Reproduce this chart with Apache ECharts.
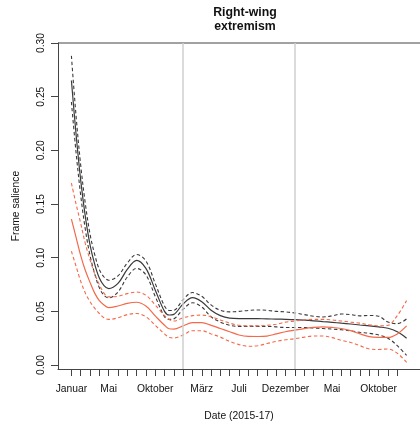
<!DOCTYPE html>
<html>
<head>
<meta charset="utf-8">
<script src="https://cdn.jsdelivr.net/npm/echarts@6/dist/echarts.min.js"></script>
<style>
  html, body { margin: 0; padding: 0; background: #fff; }
  #chart { width: 420px; height: 426px; }
</style>
</head>
<body>
<div id="chart"></div>
<script>
// Months since January 2015
const months = [0, 0.5, 1, 1.5, 2, 2.5, 3, 3.5, 4, 5, 6, 7, 8, 9, 10, 10.5, 11, 12, 13, 14, 15, 16, 17, 18, 19, 20, 21, 22, 23, 24, 25, 26, 27, 28, 29, 30, 31, 32, 33, 34, 35, 36];

// Smoothed salience, dark series (estimate and confidence bounds)
const darkMean  = [0.265, 0.215, 0.172, 0.138, 0.112, 0.094, 0.081, 0.074, 0.0712, 0.076, 0.089, 0.0975, 0.090, 0.070, 0.050, 0.0466, 0.0472, 0.057, 0.0628, 0.059, 0.051, 0.046, 0.0437, 0.0433, 0.0433, 0.0432, 0.0430, 0.0428, 0.0426, 0.0423, 0.0418, 0.0412, 0.0405, 0.0398, 0.039, 0.0382, 0.0373, 0.0365, 0.0355, 0.0343, 0.031, 0.025];
const darkUpper = [0.288, 0.232, 0.186, 0.150, 0.122, 0.103, 0.089, 0.082, 0.079, 0.083, 0.095, 0.103, 0.097, 0.076, 0.055, 0.0508, 0.051, 0.061, 0.0675, 0.064, 0.056, 0.051, 0.0495, 0.050, 0.0508, 0.0513, 0.051, 0.050, 0.0495, 0.0485, 0.047, 0.0455, 0.0448, 0.0458, 0.0475, 0.047, 0.0458, 0.0462, 0.0455, 0.040, 0.0385, 0.043];
const darkLower = [0.245, 0.198, 0.158, 0.126, 0.102, 0.085, 0.072, 0.065, 0.0625, 0.068, 0.082, 0.090, 0.084, 0.064, 0.045, 0.0425, 0.043, 0.052, 0.058, 0.054, 0.045, 0.040, 0.037, 0.036, 0.036, 0.036, 0.036, 0.0355, 0.035, 0.035, 0.035, 0.0345, 0.034, 0.0335, 0.0328, 0.0318, 0.0305, 0.0295, 0.028, 0.025, 0.018, 0.009];

// Smoothed salience, orange series (estimate and confidence bounds)
const orangeMean  = [0.136, 0.119, 0.102, 0.088, 0.077, 0.067, 0.060, 0.056, 0.0535, 0.055, 0.0575, 0.0585, 0.055, 0.0458, 0.037, 0.0338, 0.0335, 0.0365, 0.0395, 0.0395, 0.037, 0.034, 0.031, 0.028, 0.0267, 0.0266, 0.027, 0.029, 0.031, 0.0325, 0.034, 0.035, 0.0355, 0.035, 0.034, 0.032, 0.029, 0.0265, 0.0258, 0.0257, 0.029, 0.0365];
const orangeUpper = [0.1695, 0.150, 0.132, 0.113, 0.098, 0.085, 0.075, 0.067, 0.0635, 0.064, 0.0665, 0.068, 0.065, 0.056, 0.046, 0.0425, 0.041, 0.044, 0.046, 0.0465, 0.045, 0.042, 0.039, 0.037, 0.0365, 0.0365, 0.037, 0.038, 0.040, 0.041, 0.042, 0.0425, 0.0425, 0.042, 0.041, 0.040, 0.039, 0.0375, 0.0365, 0.037, 0.046, 0.060];
const orangeLower = [0.106, 0.092, 0.078, 0.067, 0.059, 0.053, 0.048, 0.044, 0.0425, 0.044, 0.047, 0.048, 0.045, 0.037, 0.029, 0.0258, 0.0252, 0.028, 0.032, 0.032, 0.029, 0.026, 0.022, 0.019, 0.0175, 0.018, 0.020, 0.022, 0.0235, 0.0245, 0.026, 0.027, 0.027, 0.0255, 0.023, 0.021, 0.018, 0.015, 0.0145, 0.015, 0.011, 0.0025];

// Axis ticks and labels
const monthTicks = Array.from({ length: 36 }, (_, i) => i);
const monthLabelPos = [0, 4, 9, 14, 18, 23, 28, 33];
const monthLabelText = ['Januar', 'Mai', 'Oktober', 'März', 'Juli', 'Dezember', 'Mai', 'Oktober'];
const yTicks = [0, 0.05, 0.10, 0.15, 0.20, 0.25, 0.30];
const yearBreaks = [12, 24];

const DARK = '#3a3a3a';
const ORANGE = '#f4694a';
const FONT = '"Liberation Sans", Arial, Helvetica, sans-serif';

function pairs(ys) { return months.map((m, i) => [m, ys[i]]); }

function lineSeries(name, ys, color, dashed, extra) {
  return Object.assign({
    name: name,
    type: 'line',
    data: pairs(ys),
    smooth: 0.35,
    showSymbol: false,
    symbol: 'none',
    silent: true,
    lineStyle: { color: color, width: dashed ? 1.1 : 1.2, type: dashed ? [3.5, 2.5] : 'solid' },
    z: 3
  }, extra || {});
}

const chart = echarts.init(document.getElementById('chart'), null, { renderer: 'canvas' });

chart.setOption({
  animation: false,
  backgroundColor: '#ffffff',
  title: {
    text: 'Right-wing\nextremism',
    left: 240,
    top: 0,
    textAlign: 'center',
    textStyle: { fontFamily: FONT, fontSize: 12.3, fontWeight: 'bold', color: '#111', lineHeight: 14.7 }
  },
  grid: {
    left: 58, top: 43, width: 364.5, height: 327,
    show: false
  },
  // Frame line along the top of the plotting region
  graphic: [{
    type: 'line',
    shape: { x1: 58, y1: 43, x2: 422.5, y2: 43 },
    style: { stroke: '#444', lineWidth: 1 },
    silent: true
  }],
  xAxis: {
    type: 'value',
    min: -1.44, max: 37.44,
    name: 'Date (2015-17)',
    nameLocation: 'middle',
    nameGap: 42,
    nameTextStyle: { fontFamily: FONT, fontSize: 10.3, color: '#111' },
    axisLine: { show: true, onZero: false, lineStyle: { color: '#444', width: 1 } },
    axisTick: { show: true, length: 7, lineStyle: { color: '#444' }, customValues: monthTicks },
    axisLabel: {
      customValues: monthLabelPos,
      formatter: v => monthLabelText[monthLabelPos.indexOf(Math.round(v))] || '',
      fontFamily: FONT, fontSize: 10.3, color: '#111', margin: 15
    },
    splitLine: { show: false }
  },
  yAxis: {
    type: 'value',
    min: -0.0037, max: 0.30,
    name: 'Frame salience',
    nameLocation: 'middle',
    nameGap: 37,
    nameRotate: 90,
    nameTextStyle: { fontFamily: FONT, fontSize: 10.3, color: '#111' },
    axisLine: { show: true, onZero: false, lineStyle: { color: '#444', width: 1 } },
    axisTick: { show: true, length: 7, lineStyle: { color: '#444' }, customValues: yTicks },
    axisLabel: {
      customValues: yTicks,
      rotate: 90,
      formatter: v => v.toFixed(2),
      fontFamily: FONT, fontSize: 10.3, color: '#111', margin: 12
    },
    splitLine: { show: false }
  },
  series: [
    lineSeries('dark lower', darkLower, DARK, true, {
      markLine: {
        silent: true,
        symbol: 'none',
        label: { show: false },
        lineStyle: { color: '#cfcfcf', width: 1.5, type: 'solid' },
        data: yearBreaks.map(x => ({ xAxis: x }))
      },
      z: 2
    }),
    lineSeries('dark upper', darkUpper, DARK, true),
    lineSeries('dark mean', darkMean, DARK, false),
    lineSeries('orange lower', orangeLower, ORANGE, true),
    lineSeries('orange upper', orangeUpper, ORANGE, true),
    lineSeries('orange mean', orangeMean, ORANGE, false)
  ]
});
</script>
</body>
</html>
